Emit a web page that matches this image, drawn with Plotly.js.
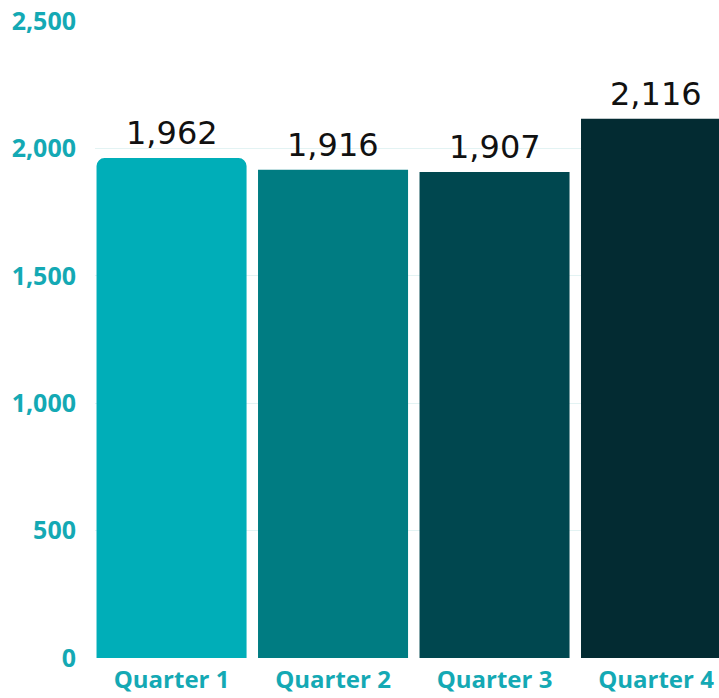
<!DOCTYPE html>
<html><head><meta charset="utf-8">
<script src="https://cdn.plot.ly/plotly-3.0.1.min.js"></script>
<style>html,body{margin:0;padding:0;background:#fff;}#chart{width:719px;height:698px;}</style>
</head><body><div id="chart"></div>
<script>
const categories = ["Quarter 1", "Quarter 2", "Quarter 3", "Quarter 4"];
const values = [1962, 1916, 1907, 2116];
const labels = ["1,962", "1,916", "1,907", "2,116"];
const colors = ["#00AEB8", "#007C82", "#00474F", "#032B32"];
const yTicks = [0, 500, 1000, 1500, 2000, 2500];
const yTickText = ["0", "500", "1,000", "1,500", "2,000", "2,500"];

const labelFont = {family: "DejaVu Sans", size: 32, color: "#111111"};
const traces = [
  {
    type: "bar", x: categories.slice(0, 1), y: values.slice(0, 1),
    marker: {color: colors.slice(0, 1), cornerradius: 8}, hoverinfo: "none"
  },
  {
    type: "bar", x: categories.slice(1), y: values.slice(1),
    marker: {color: colors.slice(1)}, hoverinfo: "none"
  }
];
const annotations = categories.map((c, i) => ({
  x: c, y: values[i], xref: "x", yref: "y", text: labels[i],
  showarrow: false, yanchor: "bottom", yshift: 4, font: labelFont
}));
const tickFont = {family: "Open Sans", size: 25, color: "#14A9B4", weight: 700};
const layout = {
  width: 719, height: 698,
  margin: {l: 95, r: 0, t: 21, b: 40},
  paper_bgcolor: "#ffffff", plot_bgcolor: "#ffffff",
  showlegend: false, barmode: "overlay", bargap: 0.071,
  annotations: annotations,
  xaxis: {
    type: "category", categoryorder: "array", categoryarray: categories,
    range: [-0.474, 3.39], showgrid: false, zeroline: false, showline: false,
    tickfont: Object.assign({}, tickFont, {size: 24}), ticks: "", ticklabelstandoff: 5, fixedrange: true
  },
  yaxis: {
    range: [0, 2500], tickvals: yTicks, ticktext: yTickText,
    showgrid: true, gridcolor: "#E3F3F3", gridwidth: 1, zeroline: false, showline: false,
    tickfont: tickFont, ticks: "", ticklabelstandoff: 18, fixedrange: true
  }
};
Plotly.newPlot("chart", traces, layout, {displayModeBar: false, staticPlot: true});
</script></body></html>
